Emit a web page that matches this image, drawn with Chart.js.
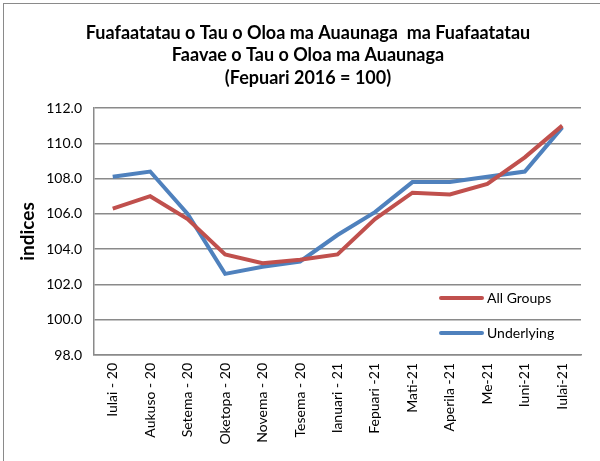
<!DOCTYPE html>
<html>
<head>
<meta charset="utf-8">
<script src="https://cdn.jsdelivr.net/npm/chart.js@4"></script>
<style>
  html, body { margin: 0; padding: 0; background: #fff; }
  #wrap { position: relative; width: 600px; height: 461px; }
  #frame { position: absolute; left: 3px; top: 3px; width: 620px; height: 480px;
           border-left: 1px solid #8a8a8a; border-top: 1px solid #8a8a8a; pointer-events: none; }
</style>
</head>
<body>
<div id="wrap">
  <canvas id="cpiChart" width="600" height="461"></canvas>
  <div id="frame"></div>
</div>
<script>
const months = [
  "Iulai - 20", "Aukuso - 20", "Setema - 20", "Oketopa - 20", "Novema - 20",
  "Tesema - 20", "Ianuari - 21", "Fepuari -21", "Mati-21", "Aperila -21",
  "Me-21", "Iuni-21", "Iulai-21"
];
const allGroups = [106.3, 107.0, 105.7, 103.7, 103.2, 103.4, 103.7, 105.7, 107.2, 107.1, 107.7, 109.2, 111.0];
const underlying = [108.1, 108.4, 106.0, 102.6, 103.0, 103.3, 104.8, 106.1, 107.8, 107.8, 108.1, 108.4, 110.9];
const titleLines = [
  "Fuafaatatau o Tau o Oloa ma Auaunaga  ma Fuafaatatau",
  "Faavae o Tau o Oloa ma Auaunaga",
  "(Fepuari 2016 = 100)"
];

const FONT = "Lato, 'Open Sans', sans-serif";

// title sits a bit right of the canvas centre in the original, so draw it by hand
const chartHeading = {
  id: "chartHeading",
  afterDraw(chart) {
    const ctx = chart.ctx;
    ctx.save();
    ctx.font = "bold 18px " + FONT;
    ctx.fillStyle = "#000";
    ctx.textAlign = "center";
    ctx.textBaseline = "middle";
    titleLines.forEach((line, i) => {
      ctx.fillText(line, 308, 33 + i * 22.5);
    });
    ctx.restore();
  }
};

// legend drawn inside the plot, bottom right
const insideLegend = {
  id: "insideLegend",
  afterDatasetsDraw(chart) {
    const ctx = chart.ctx;
    const rows = [298, 333];
    ctx.save();
    ctx.font = "14px " + FONT;
    ctx.textBaseline = "middle";
    ctx.textAlign = "left";
    chart.data.datasets.forEach((ds, i) => {
      const y = rows[i];
      ctx.strokeStyle = ds.borderColor;
      ctx.lineWidth = 4;
      ctx.lineCap = "round";
      ctx.beginPath();
      ctx.moveTo(441, y);
      ctx.lineTo(482, y);
      ctx.stroke();
      ctx.fillStyle = "#000";
      ctx.fillText(ds.label, 487, y);
    });
    ctx.restore();
  }
};

const ctx = document.getElementById("cpiChart").getContext("2d");
new Chart(ctx, {
  type: "line",
  data: {
    labels: months,
    datasets: [
      {
        label: "All Groups",
        data: allGroups,
        borderColor: "#C0504D",
        borderWidth: 4,
        pointRadius: 0,
        tension: 0
      },
      {
        label: "Underlying",
        data: underlying,
        borderColor: "#4F81BD",
        borderWidth: 4,
        pointRadius: 0,
        tension: 0
      }
    ]
  },
  options: {
    responsive: false,
    animation: false,
    layout: { padding: { left: 0, right: 19, top: 108, bottom: 0 } },
    plugins: {
      legend: { display: false },
      tooltip: { enabled: false },
      title: { display: false }
    },
    scales: {
      x: {
        offset: true,
        grid: { display: false, drawTicks: false },
        border: { display: true, color: "#8a8a8a", width: 1.5 },
        ticks: {
          color: "#000",
          font: { family: FONT, size: 14 },
          minRotation: 90,
          maxRotation: 90,
          autoSkip: false,
          padding: 8
        },
        afterFit(scale) { scale.height = 106; }
      },
      y: {
        min: 98,
        max: 112,
        grid: { color: "#8a8a8a", lineWidth: 1.5, drawTicks: false },
        border: { display: true, color: "#8a8a8a", width: 1.5 },
        ticks: {
          stepSize: 2,
          color: "#000",
          font: { family: FONT, size: 14 },
          padding: 12,
          callback: (v) => v.toFixed(1)
        },
        title: {
          display: true,
          text: "indices",
          color: "#000",
          font: { family: FONT, size: 19, weight: "bold" },
          padding: { top: 16, bottom: 0 }
        },
        afterFit(scale) { scale.width = 94; }
      }
    }
  },
  plugins: [chartHeading, insideLegend]
});
</script>
</body>
</html>
